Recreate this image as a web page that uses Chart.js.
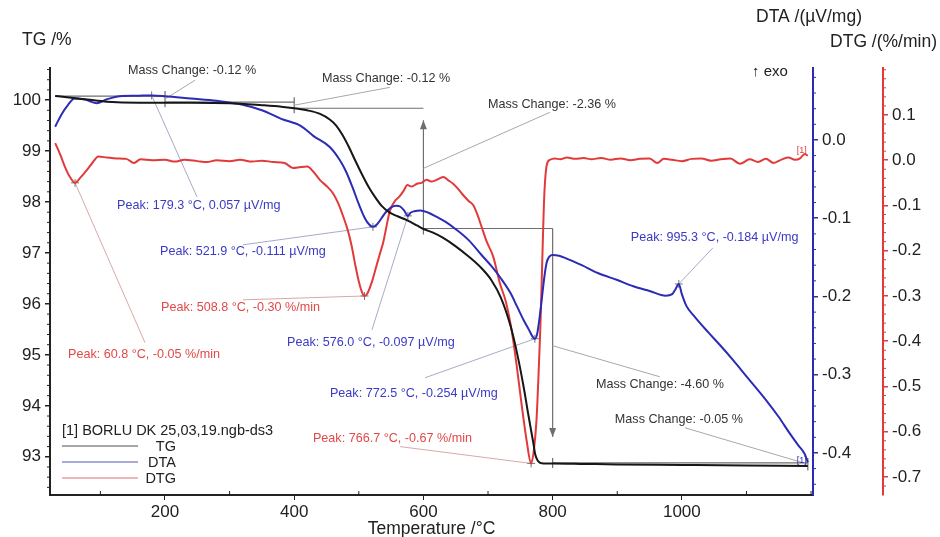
<!DOCTYPE html>
<html>
<head>
<meta charset="utf-8">
<script src="https://cdn.jsdelivr.net/npm/chart.js@4.4.1/dist/chart.umd.min.js"></script>
<style>
  html, body { margin: 0; padding: 0; background: #fff; }
</style>
</head>
<body>
<canvas id="chart" width="940" height="537"></canvas>
<script>
// TG: mass /% against temperature /°C
const tgTemp = [30, 45, 58, 80, 110, 160, 200, 240, 300, 350, 380, 400, 420, 440, 455, 465, 475, 485, 495, 505,
  515, 525, 535, 548, 560, 575, 590, 600, 615, 630, 650, 670, 690, 705, 720, 735, 745, 755, 763, 770,
  773, 777, 781, 786, 792, 800, 850, 900, 1000, 1100, 1195];
const tgMass = [100.08, 100.06, 100.04, 100.01, 99.97, 99.95, 99.95, 99.95, 99.94, 99.90, 99.87, 99.84, 99.80, 99.73, 99.62, 99.50, 99.31, 99.07, 98.80, 98.54,
  98.30, 98.10, 97.93, 97.79, 97.72, 97.64, 97.54, 97.47, 97.40, 97.30, 97.13, 96.93, 96.70, 96.47, 96.12, 95.56, 95.03, 94.38, 93.78, 93.28,
  93.05, 92.92, 92.88, 92.87, 92.87, 92.87, 92.86, 92.85, 92.84, 92.83, 92.82];

// DTA: µV/mg
const dtaTemp = [30, 40, 50, 60, 75, 94, 110, 130, 155, 179.3, 200, 240, 280, 320, 350, 380, 410, 430, 455, 470,
  480, 490, 500, 510, 516, 521.9, 528, 535, 542, 550, 558, 564, 570, 576, 580, 586, 595, 608, 620, 635,
  650, 670, 690, 705, 720, 735, 745, 755, 763, 768, 772.5, 776, 779, 782, 785, 788, 791, 795, 800, 810,
  820, 845, 870, 900, 925, 950, 975, 985, 990, 995.3, 1000, 1007, 1020, 1040, 1060, 1080, 1100, 1130, 1150, 1167,
  1180, 1190, 1195];
const dtaSignal = [0.017, 0.033, 0.045, 0.053, 0.052, 0.047, 0.052, 0.056, 0.0565, 0.057, 0.056, 0.053, 0.050, 0.045, 0.038, 0.027, 0.018, 0.005, -0.009, -0.025,
  -0.040, -0.060, -0.082, -0.101, -0.108, -0.111, -0.108, -0.100, -0.092, -0.086, -0.084, -0.085, -0.090, -0.097, -0.093, -0.091, -0.090, -0.093, -0.098, -0.105,
  -0.114, -0.128, -0.147, -0.161, -0.177, -0.196, -0.213, -0.230, -0.242, -0.250, -0.254, -0.248, -0.232, -0.212, -0.190, -0.170, -0.156, -0.149, -0.147, -0.148,
  -0.151, -0.160, -0.170, -0.179, -0.187, -0.193, -0.199, -0.197, -0.191, -0.184, -0.197, -0.212, -0.226, -0.245, -0.263, -0.282, -0.302, -0.332, -0.354, -0.375,
  -0.390, -0.401, -0.412];

// DTG: %/min
const dtgTemp = [30, 38, 45, 52, 60.8, 68, 79, 88, 97, 110, 125, 140, 152, 162, 180, 200, 215, 230, 250, 265,
  280, 300, 316, 335, 350, 368, 385, 398, 410, 420, 430, 440, 450, 460, 468, 476, 483, 489, 495, 500,
  505, 508.8, 513, 520, 527, 533, 538, 543, 548, 555, 563, 570, 575, 582, 590, 597, 605, 612, 618, 625,
  631, 638, 646, 654, 662, 670, 677, 684, 690, 698, 708, 718, 728, 737, 744, 752, 760, 766.7, 771, 775,
  778, 781, 784, 787, 791, 796, 803, 812, 822, 835, 848, 860, 875, 890, 905, 920, 935, 950, 962, 972,
  985, 1000, 1015, 1030, 1045, 1060, 1075, 1090, 1105, 1118, 1130, 1142, 1155, 1165, 1175, 1183, 1190, 1195];
const dtgRate = [0.038, 0.012, -0.014, -0.035, -0.050, -0.040, -0.022, -0.005, 0.008, 0.006, 0.004, 0.003, -0.006, 0.002, 0.000, 0.001, -0.003, 0.001, -0.002, -0.004,
  0.000, -0.002, 0.001, -0.003, -0.001, -0.004, -0.006, -0.017, -0.015, -0.014, -0.026, -0.044, -0.057, -0.073, -0.095, -0.125, -0.155, -0.190, -0.235, -0.268,
  -0.292, -0.300, -0.295, -0.270, -0.235, -0.205, -0.180, -0.145, -0.112, -0.092, -0.080, -0.066, -0.055, -0.058, -0.052, -0.050, -0.043, -0.047, -0.045, -0.040,
  -0.037, -0.044, -0.052, -0.064, -0.078, -0.090, -0.099, -0.122, -0.147, -0.180, -0.213, -0.270, -0.315, -0.380, -0.450, -0.540, -0.622, -0.670, -0.640, -0.575,
  -0.480, -0.370, -0.220, -0.080, -0.010, 0.001, 0.004, 0.002, 0.006, 0.003, 0.005, 0.002, 0.005, 0.001, 0.004, 0.000, 0.003, 0.004, -0.006, 0.003,
  0.001, -0.002, 0.003, 0.004, -0.001, 0.002, 0.004, -0.008, 0.002, -0.004, 0.003, -0.006, 0.002, 0.006, 0.001, 0.004, 0.014, 0.010];

const tempTicks = [200, 400, 600, 800, 1000];
const tgTicks = [93, 94, 95, 96, 97, 98, 99, 100];
const dtaTicks = [-0.4, -0.3, -0.2, -0.1, 0.0];
const dtgTicks = [-0.7, -0.6, -0.5, -0.4, -0.3, -0.2, -0.1, 0.0, 0.1];

// evaluated peaks
const peakTemps = [60.8, 179.3, 508.8, 521.9, 576.0, 766.7, 772.5, 995.3];
const peakValues = [-0.05, 0.057, -0.30, -0.111, -0.097, -0.67, -0.254, -0.184];
const peakCurves = ['dtg', 'dta', 'dtg', 'dta', 'dta', 'dtg', 'dta', 'dta'];
// label anchor (°C, TG %) and where its leader line starts
const peakLabelAt = [[49.9, 95.0], [125.7, 97.94], [193.8, 95.92], [192.3, 97.02], [388.9, 95.25], [429, 93.35], [455.3, 94.25], [921, 97.31]];
const peakLeaderFrom = [[169, 95.24], [249.5, 98.10], [320.7, 96.08], [320.7, 97.16], [520.3, 95.49], [563.6, 93.20], [602.3, 94.55], [1048, 97.10]];

// mass change steps
const stepStart = [30, 200, 400, 600, 800];
const stepEnd = [200, 400, 600, 800, 1195];
const stepChange = [-0.12, -0.12, -2.36, -4.60, -0.05];
const stepArrow = [0, 0, 1, -1, 0];
const stepLabelAt = [[142.7, 100.59], [443, 100.43], [699.8, 99.92], [867, 94.41], [896.3, 93.73]];
const stepLeaderFrom = [[246.5, 100.39], [548, 100.25], [795.7, 99.76], [965.9, 94.57], [1004.6, 93.57]];

const FONT = "'Liberation Sans', Arial, sans-serif";
const TG_COLOR = '#161616';
const DTA_COLOR = '#2b2bb5';
const DTG_COLOR = '#e23a3a';
const DTA_TEXT = '#3a3ac4';
const DTG_TEXT = '#e24848';

Chart.defaults.font.family = FONT;
Chart.defaults.color = '#222';

const toPoints = (xs, ys) => xs.map((x, i) => ({ x, y: ys[i] }));
const ticksFrom = list => s => { s.ticks = list.map(v => ({ value: v })); };

function line(ctx, x0, y0, x1, y1) {
  ctx.beginPath();
  ctx.moveTo(x0, y0);
  ctx.lineTo(x1, y1);
  ctx.stroke();
}

function arrowHead(ctx, x, y, dir) {
  ctx.beginPath();
  ctx.moveTo(x, y);
  ctx.lineTo(x - 3.5, y - dir * 9);
  ctx.lineTo(x + 3.5, y - dir * 9);
  ctx.closePath();
  ctx.fill();
}

function minorTicks(ctx, scale, step, len, color) {
  const majors = scale.ticks.map(t => t.value);
  const first = Math.ceil(scale.min / step - 1e-9);
  const last = Math.floor(scale.max / step + 1e-9);
  ctx.strokeStyle = color;
  ctx.lineWidth = 1;
  for (let i = first; i <= last; i++) {
    const v = i * step;
    if (majors.some(m => Math.abs(m - v) < step / 10)) continue;
    const p = scale.getPixelForValue(v);
    if (scale.isHorizontal()) line(ctx, p, scale.top, p, scale.top - len);
    else if (scale.position === 'left') line(ctx, scale.right, p, scale.right - len, p);
    else line(ctx, scale.left, p, scale.left + len, p);
  }
}

const overlay = {
  id: 'overlay',
  beforeDatasetsDraw(chart) {
    const { ctx, scales } = chart;
    const px = t => scales.x.getPixelForValue(t);
    const py = v => scales.y.getPixelForValue(v);
    const curveY = (curve, v) => (curve === 'dta' ? scales.y1 : scales.y2).getPixelForValue(v);
    ctx.save();

    // mass change steps: reference line, end marker, arrow and leader
    let level = tgMass[0];
    stepChange.forEach((dm, i) => {
      const next = level + dm;
      const x0 = px(stepStart[i]), x1 = px(stepEnd[i]);
      const ya = py(level), yb = py(next);
      ctx.strokeStyle = '#6e6e6e';
      ctx.fillStyle = '#6e6e6e';
      ctx.lineWidth = 1.2;
      line(ctx, x0, ya, x1, ya);
      if (stepArrow[i] === 1) {
        line(ctx, x1, yb + 6, x1, ya + 12);
        arrowHead(ctx, x1, ya + 12, -1);
      } else if (stepArrow[i] === -1) {
        line(ctx, x1, ya, x1, yb - 26);
        arrowHead(ctx, x1, yb - 26, 1);
        line(ctx, x1, yb - 5, x1, yb + 5);
      } else {
        line(ctx, x1, ya - 5, x1, yb + 5);
      }
      ctx.strokeStyle = '#a8a8a8';
      ctx.lineWidth = 1;
      const [lt, lv] = stepLeaderFrom[i];
      line(ctx, px(lt), py(lv), x1, (ya + yb) / 2);
      level = next;
    });

    // peak leaders and cross markers
    peakTemps.forEach((t, i) => {
      const x = px(t), y = curveY(peakCurves[i], peakValues[i]);
      const [lt, lv] = peakLeaderFrom[i];
      ctx.strokeStyle = peakCurves[i] === 'dta' ? '#a9a9c8' : '#d8a8a8';
      ctx.lineWidth = 1;
      line(ctx, px(lt), py(lv), x, y);
      ctx.strokeStyle = '#777';
      line(ctx, x - 4, y, x + 4, y);
      line(ctx, x, y - 4, x, y + 4);
    });

    // minor tick marks
    minorTicks(ctx, scales.x, 100, 4, '#222');
    minorTicks(ctx, scales.y, 0.2, 3, '#222');
    minorTicks(ctx, scales.y1, 0.02, 3, DTA_COLOR);
    minorTicks(ctx, scales.y2, 0.02, 3, DTG_COLOR);
    ctx.restore();
  },
  afterDatasetsDraw(chart) {
    const { ctx, scales, chartArea: ca } = chart;
    const px = t => scales.x.getPixelForValue(t);
    const py = v => scales.y.getPixelForValue(v);
    ctx.save();
    ctx.textBaseline = 'middle';
    ctx.textAlign = 'left';

    ctx.font = `12.6px ${FONT}`;
    ctx.fillStyle = '#333';
    stepChange.forEach((dm, i) => {
      const [t, v] = stepLabelAt[i];
      ctx.fillText(`Mass Change: ${dm.toFixed(2)} %`, px(t), py(v));
    });

    peakTemps.forEach((t, i) => {
      const isDta = peakCurves[i] === 'dta';
      const val = isDta ? peakValues[i].toFixed(3) + ' µV/mg' : peakValues[i].toFixed(2) + ' %/min';
      const [lt, lv] = peakLabelAt[i];
      ctx.fillStyle = isDta ? DTA_TEXT : DTG_TEXT;
      ctx.fillText(`Peak: ${t.toFixed(1)} °C, ${val}`, px(lt), py(lv));
    });

    // curve end tags
    ctx.font = `9px ${FONT}`;
    ctx.textAlign = 'right';
    ctx.fillStyle = DTG_COLOR;
    const tl = dtgTemp.length - 1;
    ctx.fillText('[1]', px(dtgTemp[tl]) - 1, scales.y2.getPixelForValue(dtgRate[tl]) - 5);
    ctx.fillStyle = DTA_COLOR;
    const al = dtaTemp.length - 1;
    ctx.fillText('[1]', px(dtaTemp[al]) - 1, scales.y1.getPixelForValue(dtaSignal[al]) - 2);

    // axis titles
    ctx.fillStyle = '#222';
    ctx.font = `17.5px ${FONT}`;
    ctx.textAlign = 'left';
    ctx.fillText('TG /%', ca.left - 28, ca.top - 28);
    ctx.textAlign = 'right';
    ctx.fillText('DTA /(µV/mg)', scales.y1.right - 21, ca.top - 51);
    ctx.fillText('DTG /(%/min)', scales.y2.right - 3, ca.top - 26);
    ctx.font = `15px ${FONT}`;
    ctx.textAlign = 'left';
    ctx.fillText('↑ exo', ca.right - 61, ca.top + 4);

    // legend
    const lx = ca.left + 12;
    ctx.font = `14.5px ${FONT}`;
    ctx.fillText('[1] BORLU DK 25,03,19.ngb-ds3', lx, ca.bottom - 64);
    const rows = [['TG', '#8a8a8a'], ['DTA', '#8c8cd0'], ['DTG', '#eaa0a0']];
    rows.forEach(([name, col], i) => {
      const ry = ca.bottom - 49 + i * 16;
      ctx.strokeStyle = col;
      ctx.lineWidth = 1.5;
      line(ctx, lx, ry, lx + 76, ry);
      ctx.textAlign = 'right';
      ctx.fillStyle = '#222';
      ctx.fillText(name, lx + 114, ry + 1);
    });
    ctx.restore();
  }
};

const axisCommon = (color, width, format) => ({
  border: { color, width: 2 },
  grid: { drawOnChartArea: false, color, tickLength: 5, lineWidth: 1.5 },
  ticks: { font: { size: 17 }, color: '#222', padding: 4, autoSkip: false, callback: format },
  afterFit: s => { s.width = width; }
});

const oneDecimal = v => v.toFixed(1);

new Chart(document.getElementById('chart'), {
  type: 'line',
  data: {
    datasets: [
      { label: 'TG', data: toPoints(tgTemp, tgMass), yAxisID: 'y', borderColor: TG_COLOR, order: 1 },
      { label: 'DTA', data: toPoints(dtaTemp, dtaSignal), yAxisID: 'y1', borderColor: DTA_COLOR, order: 2 },
      { label: 'DTG', data: toPoints(dtgTemp, dtgRate), yAxisID: 'y2', borderColor: DTG_COLOR, order: 3 }
    ]
  },
  options: {
    responsive: false,
    animation: false,
    devicePixelRatio: 1,
    layout: { padding: { top: 68, left: 0, right: 0, bottom: 0 } },
    elements: {
      point: { radius: 0 },
      line: { borderWidth: 2, cubicInterpolationMode: 'monotone', fill: false }
    },
    plugins: { legend: { display: false }, tooltip: { enabled: false } },
    scales: {
      x: {
        type: 'linear', min: 22, max: 1203,
        afterBuildTicks: ticksFrom(tempTicks),
        afterFit: s => { s.height = 42; },
        border: { color: '#222', width: 2 },
        grid: { drawOnChartArea: false, color: '#222', tickLength: 5 },
        ticks: { font: { size: 17 }, color: '#222', padding: 2, maxRotation: 0, autoSkip: false, callback: v => String(v) },
        title: { display: true, text: 'Temperature /°C', font: { size: 17.5 }, color: '#222', padding: { top: 0, bottom: -3 } }
      },
      y: Object.assign(axisCommon('#222', 50, v => String(v)), {
        position: 'left', min: 92.25, max: 100.63,
        afterBuildTicks: ticksFrom(tgTicks)
      }),
      y1: Object.assign(axisCommon(DTA_COLOR, 70, oneDecimal), {
        position: 'right', min: -0.4537, max: 0.092,
        afterBuildTicks: ticksFrom(dtaTicks)
      }),
      y2: Object.assign(axisCommon(DTG_COLOR, 57, oneDecimal), {
        position: 'right', min: -0.7398, max: 0.2038,
        afterBuildTicks: ticksFrom(dtgTicks)
      })
    }
  },
  plugins: [overlay]
});
</script>
</body>
</html>
